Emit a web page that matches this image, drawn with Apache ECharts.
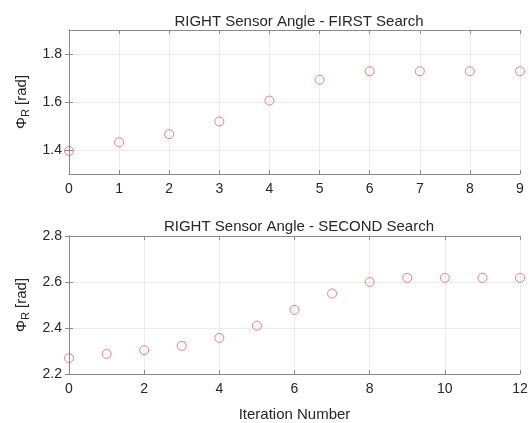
<!DOCTYPE html>
<html>
<head>
<meta charset="utf-8">
<script src="https://cdn.jsdelivr.net/npm/echarts@6/dist/echarts.min.js"></script>
<style>
  html, body { margin: 0; padding: 0; background: #fff; }
  #chart { width: 532px; height: 423px; }
</style>
</head>
<body>
<div id="chart"></div>
<script>
// Right sensor angle per iteration, two search passes
const firstIterations = [0, 1, 2, 3, 4, 5, 6, 7, 8, 9];
const firstAngles = [1.396, 1.432, 1.466, 1.519, 1.606, 1.693, 1.728, 1.728, 1.728, 1.728];
const secondIterations = [0, 1, 2, 3, 4, 5, 6, 7, 8, 9, 10, 11, 12];
const secondAngles = [2.269, 2.287, 2.304, 2.322, 2.357, 2.41, 2.479, 2.55, 2.6, 2.618, 2.618, 2.618, 2.618];

// Tick values of the angle axes
const firstTicks = [1.4, 1.6, 1.8];
const secondTicks = [2.2, 2.4, 2.6, 2.8];

const titles = ['RIGHT Sensor Angle - FIRST Search', 'RIGHT Sensor Angle - SECOND Search'];
const xLabel = 'Iteration Number';

const FONT = '"Liberation Sans", Arial, sans-serif';
const TXT = '#262626';
const FRAME = '#8a8a8a';
const GRIDC = '#ebebeb';
const MARK = '#e06464';

const chart = echarts.init(document.getElementById('chart'), null, { renderer: 'canvas' });

function xAxes(gridIndex, max, interval, withName) {
  const base = {
    type: 'value', gridIndex, min: 0, max, interval,
    axisLine: { show: true, lineStyle: { color: FRAME, width: 1 } },
    axisTick: { show: true, inside: true, length: 4, lineStyle: { color: FRAME } },
  };
  return [
    Object.assign({}, base, {
      position: 'bottom',
      axisLabel: { show: true, color: TXT, fontFamily: FONT, fontSize: 14, margin: 8 },
      splitLine: { show: true, lineStyle: { color: GRIDC, width: 1 } },
      name: withName ? xLabel : '',
      nameLocation: 'middle', nameGap: 33,
      nameTextStyle: { color: TXT, fontFamily: FONT, fontSize: 15 }
    }),
    Object.assign({}, base, {
      position: 'top',
      axisLabel: { show: false },
      splitLine: { show: false }
    })
  ];
}

function yAxes(gridIndex, min, max, ticks) {
  const base = {
    type: 'value', gridIndex, min, max,
    axisLine: { show: true, lineStyle: { color: FRAME, width: 1 } },
    axisTick: { show: true, inside: true, length: 4, customValues: ticks, lineStyle: { color: FRAME } },
  };
  return [
    Object.assign({}, base, {
      position: 'left',
      axisLabel: {
        show: true, color: TXT, fontFamily: FONT, fontSize: 14, margin: 7,
        customValues: ticks,
        formatter: v => v.toFixed(1)
      },
      splitLine: { show: true, lineStyle: { color: GRIDC, width: 1 } },
      name: '{p|Φ}{s|R}{p| [rad]}',
      nameLocation: 'middle', nameRotate: 90, nameGap: 36,
      nameTextStyle: {
        color: TXT, fontFamily: FONT, fontSize: 15,
        rich: {
          p: { fontFamily: FONT, fontSize: 15, color: TXT },
          s: { fontFamily: FONT, fontSize: 11, color: TXT, padding: [9, 0, 0, 0] }
        }
      }
    }),
    Object.assign({}, base, {
      position: 'right',
      axisLabel: { show: false },
      splitLine: { show: false }
    })
  ];
}

const option = {
  backgroundColor: '#ffffff',
  animation: false,
  title: titles.map((t, i) => ({
    text: t,
    left: 294, top: i === 0 ? 9 : 214, textAlign: 'center',
    textStyle: { color: TXT, fontFamily: FONT, fontSize: 15, fontWeight: 'normal' }
  })),
  grid: [
    { left: 69, right: 12, top: 30, height: 144 },
    { left: 69, right: 12, top: 236, height: 144 }
  ],
  xAxis: [].concat(xAxes(0, 9, 1, false), xAxes(1, 12, 2, true)),
  yAxis: [].concat(yAxes(0, 1.3, 1.9, firstTicks), yAxes(1, 2.2, 2.8, secondTicks)),
  series: [
    {
      type: 'scatter', xAxisIndex: 0, yAxisIndex: 0,
      data: firstIterations.map((x, i) => [x, firstAngles[i]]),
      symbol: 'circle', symbolSize: 9,
      itemStyle: { color: 'transparent', borderColor: MARK, borderWidth: 1 },
      clip: false
    },
    {
      type: 'scatter', xAxisIndex: 2, yAxisIndex: 2,
      data: secondIterations.map((x, i) => [x, secondAngles[i]]),
      symbol: 'circle', symbolSize: 9,
      itemStyle: { color: 'transparent', borderColor: MARK, borderWidth: 1 },
      clip: false
    }
  ]
};

chart.setOption(option);
</script>
</body>
</html>
